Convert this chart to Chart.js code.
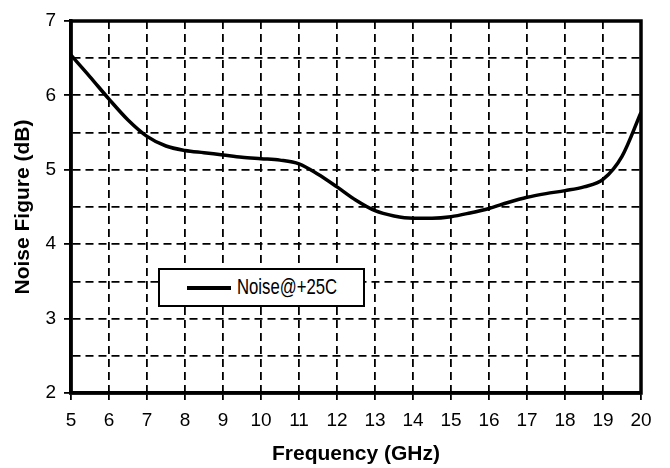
<!DOCTYPE html>
<html>
<head>
<meta charset="utf-8">
<script src="https://cdn.jsdelivr.net/npm/chart.js@4/dist/chart.umd.min.js"></script>
<style>
    html, body { margin: 0; padding: 0; background: #fff; }
    #wrap { position: relative; width: 670px; height: 468px; }
    #legendBox {
        position: absolute;
        left: 158px;
        top: 268px;
        width: 203px;
        height: 35px;
        border: 2px solid #000;
        background: #fff;
        font-family: "Liberation Sans", Arial, sans-serif;
        font-size: 22px;
        color: #000;
    }
    #legendBox .swatch {
        position: absolute;
        left: 27px;
        top: 16px;
        width: 44px;
        height: 4px;
        background: #000;
    }
    #legendBox .label {
        position: absolute;
        left: 77px;
        top: 4px;
        line-height: 26px;
        white-space: nowrap;
        transform: scaleX(0.76);
        transform-origin: left center;
    }
</style>
</head>
<body>
<div id="wrap">
    <canvas id="nfChart" width="670" height="468"></canvas>
    <div id="legendBox"><div class="swatch"></div><div class="label">Noise@+25C</div></div>
</div>
<script>
// Noise figure vs frequency
const seriesName = 'Noise@+25C';
const freqGHz = [5, 5.5, 6, 6.5, 7, 7.5, 8, 8.5, 9, 9.5, 10, 10.5, 11, 11.5, 12, 12.5,
    13, 13.5, 14, 14.5, 15, 15.5, 16, 16.5, 17, 17.5, 18, 18.5, 19, 19.5, 20];
const noiseDb = [6.54, 6.25, 5.95, 5.67, 5.45, 5.32, 5.26, 5.23, 5.20, 5.17, 5.15, 5.13, 5.08, 4.94, 4.77, 4.59,
    4.45, 4.38, 4.35, 4.35, 4.37, 4.42, 4.48, 4.56, 4.63, 4.68, 4.72, 4.77, 4.87, 5.18, 5.77];
const xTicks = { min: 5, max: 20, step: 1 };
const yTicks = { min: 2, max: 7, step: 0.5 };

const tickFont = { family: '"Liberation Sans", Arial, sans-serif', size: 19 };
const titleFont = { family: '"Liberation Sans", Arial, sans-serif', size: 21, weight: 'bold' };

// frame around the plot area
const framePlugin = {
    id: 'frame',
    afterDraw(chart) {
        const a = chart.chartArea;
        const ctx = chart.ctx;
        ctx.save();
        ctx.strokeStyle = '#000';
        ctx.lineWidth = 3.5;
        ctx.strokeRect(a.left, a.top, a.right - a.left, a.bottom - a.top);
        ctx.restore();
    }
};

const points = freqGHz.map((f, i) => ({ x: f, y: noiseDb[i] }));

new Chart(document.getElementById('nfChart'), {
    type: 'line',
    data: {
        datasets: [{
            label: seriesName,
            data: points,
            borderColor: '#000',
            borderWidth: 3.5,
            pointRadius: 0,
            cubicInterpolationMode: 'monotone',
            fill: false
        }]
    },
    options: {
        responsive: false,
        animation: false,
        devicePixelRatio: 1,
        layout: { padding: { top: 21, right: 29, left: 0, bottom: 0 } },
        plugins: {
            legend: { display: false },
            tooltip: { enabled: false }
        },
        scales: {
            x: {
                type: 'linear',
                min: xTicks.min,
                max: xTicks.max,
                afterFit: function(scale) { scale.height = 468 - 393; },
                ticks: {
                    stepSize: xTicks.step,
                    color: '#000',
                    font: tickFont,
                    padding: 9,
                    maxRotation: 0
                },
                grid: {
                    color: '#000',
                    lineWidth: 1.8,
                    tickLength: 7,
                    tickColor: '#000',
                    tickWidth: 1.8
                },
                border: { display: true, color: '#000', width: 3.5, dash: [8, 5] },
                title: {
                    display: true,
                    text: 'Frequency (GHz)',
                    color: '#000',
                    font: titleFont,
                    padding: { top: 0, bottom: 1 }
                }
            },
            y: {
                min: yTicks.min,
                max: yTicks.max,
                afterFit: function(scale) { scale.width = 71; },
                ticks: {
                    stepSize: yTicks.step,
                    color: '#000',
                    font: tickFont,
                    padding: 8,
                    callback: function(value) { return value % 1 === 0 ? value : ''; }
                },
                grid: {
                    color: '#000',
                    lineWidth: 1.8,
                    tickLength: 7,
                    tickWidth: 1.8,
                    tickColor: function(ctx) { return ctx.tick && ctx.tick.value % 1 === 0 ? '#000' : 'rgba(0,0,0,0)'; }
                },
                border: { display: true, color: '#000', width: 3.5, dash: [8, 5] },
                title: {
                    display: true,
                    text: 'Noise Figure (dB)',
                    color: '#000',
                    font: titleFont,
                    padding: { top: 11, bottom: 0 }
                }
            }
        }
    },
    plugins: [framePlugin]
});
</script>
</body>
</html>
